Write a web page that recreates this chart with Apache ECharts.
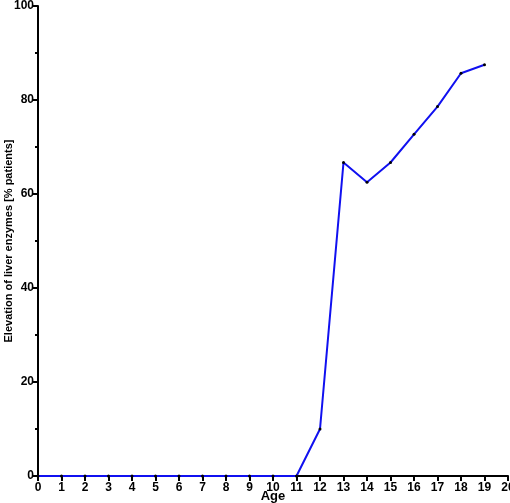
<!DOCTYPE html>
<html>
<head>
<meta charset="utf-8">
<script src="https://cdn.jsdelivr.net/npm/echarts@6/dist/echarts.min.js"></script>
<style>
  html, body { margin: 0; padding: 0; background: #fff; }
  #chart { width: 510px; height: 503px; }
</style>
</head>
<body>
<div id="chart"></div>
<script>
// ages and % patients with elevated liver enzymes
var ages = [0, 1, 2, 3, 4, 5, 6, 7, 8, 9, 10, 11, 12, 13, 14, 15, 16, 17, 18, 19];
var percent = [0, 0, 0, 0, 0, 0, 0, 0, 0, 0, 0, 0, 10, 66.7, 62.5, 66.7, 72.7, 78.6, 85.7, 87.5];

var points = ages.map(function (a, i) { return [a, percent[i]]; });

var chart = echarts.init(document.getElementById('chart'));
var font = 'Arial, "Liberation Sans", sans-serif';

chart.setOption({
    animation: false,
    grid: { left: 38, right: 2, top: 6, bottom: 27, containLabel: false, outerBoundsMode: 'none' },
    xAxis: {
        type: 'value',
        min: 0,
        max: 20,
        interval: 1,
        name: 'Age',
        nameLocation: 'middle',
        nameGap: 14,
        nameMoveOverlap: false,
        nameTextStyle: { fontFamily: font, fontWeight: 'bold', fontSize: 13, color: '#000' },
        axisLine: { lineStyle: { color: '#000', width: 2 } },
        axisTick: { show: true, length: 5, lineStyle: { color: '#000', width: 2 } },
        axisLabel: { fontFamily: font, fontWeight: 'bold', fontSize: 12, color: '#000', margin: 6 },
        splitLine: { show: false }
    },
    yAxis: {
        type: 'value',
        min: 0,
        max: 100,
        interval: 20,
        name: 'Elevation of liver enzymes [% patients]',
        nameLocation: 'middle',
        nameGap: 24,
        nameMoveOverlap: false,
        nameTextStyle: { fontFamily: font, fontWeight: 'bold', fontSize: 11, color: '#000' },
        axisLine: { show: true, lineStyle: { color: '#000', width: 2 } },
        axisTick: { show: true, length: 5, lineStyle: { color: '#000', width: 2 } },
        minorTick: { show: true, splitNumber: 2, length: 3, lineStyle: { color: '#000', width: 2 } },
        axisLabel: { fontFamily: font, fontWeight: 'bold', fontSize: 12, color: '#000', margin: 4 },
        splitLine: { show: false }
    },
    series: [{
        type: 'line',
        data: points,
        symbol: 'circle',
        symbolSize: 3,
        itemStyle: { color: '#000' },
        lineStyle: { color: '#1010f0', width: 2 },
        z: 3
    }]
});
</script>
</body>
</html>
